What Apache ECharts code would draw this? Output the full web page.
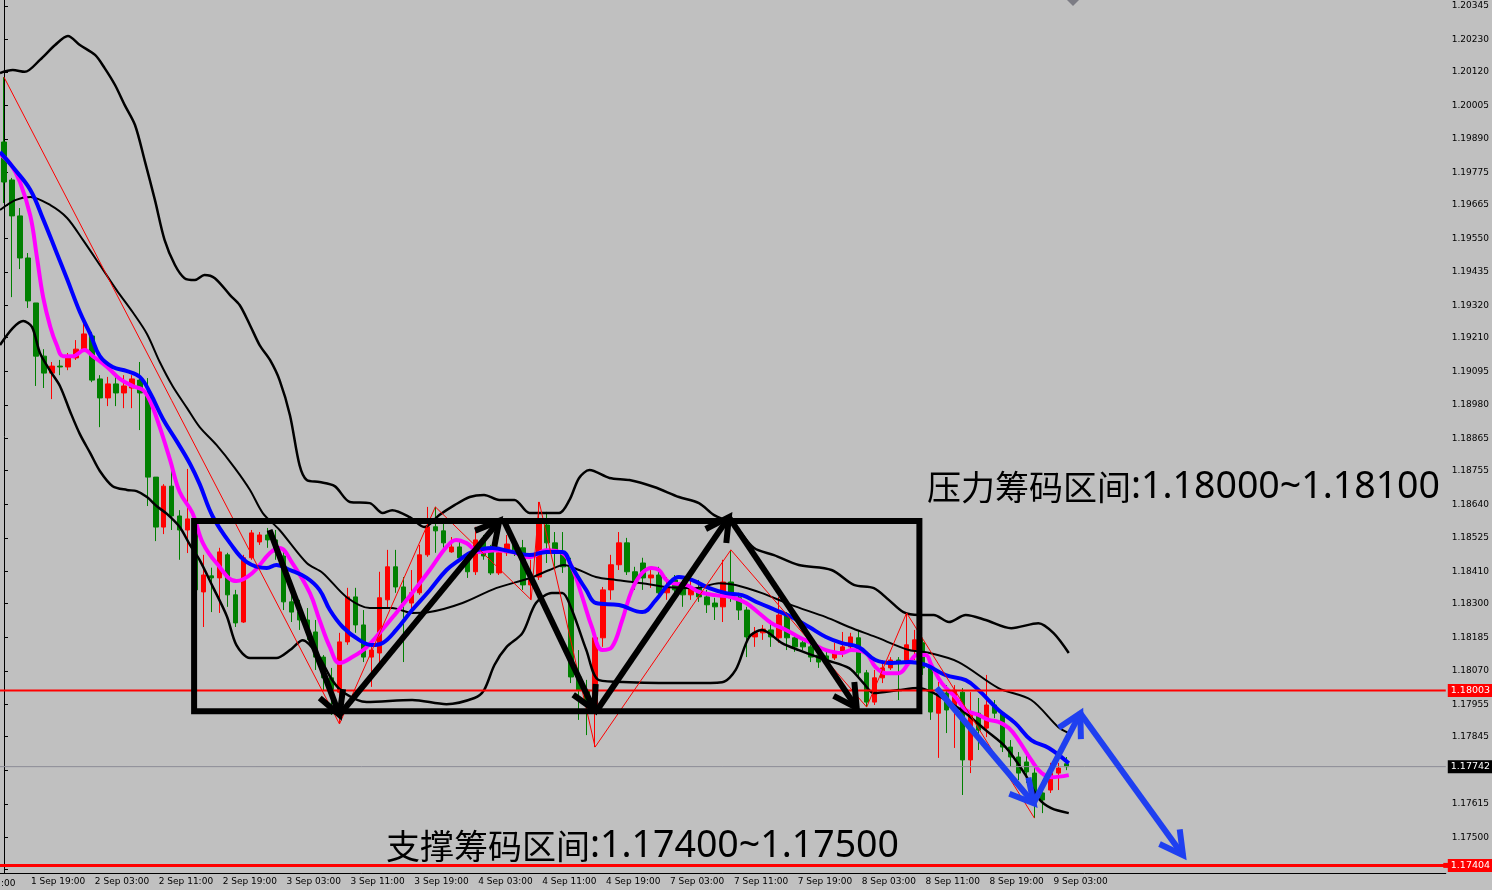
<!DOCTYPE html>
<html><head><meta charset="utf-8">
<script src="https://cdn.jsdelivr.net/npm/echarts@6.0.0/dist/echarts.min.js"></script>
<style>html,body{margin:0;padding:0;background:#c0c0c0;overflow:hidden}#c{width:1492px;height:890px}</style>
</head><body><div id="c"></div><script>
// ---------------- DATA ----------------
const sessionDays  = ['1 Sep','2 Sep','3 Sep','4 Sep','7 Sep','8 Sep','9 Sep'];
const sessionFirstHour = [16,0,0,0,0,0,0];
const sessionLastHour  = [23,23,23,23,23,23,5];
const CATEGORY_COUNT = 181; // visible hourly slots incl. empty right margin

const opens = [1.19880,1.19750,1.19627,1.19483,1.19329,1.19147,1.19089,1.19113,1.19110,1.19141,
1.19171,1.19216,1.19069,1.19004,1.19052,1.19021,1.19038,1.19065,1.19021,1.18733,
1.18562,1.18702,1.18600,1.18552,1.18580,1.18340,1.18395,1.18388,1.18467,1.18330,
1.18237,1.18457,1.18511,1.18535,1.18518,1.18463,1.18306,1.18271,1.18244,1.18203,
1.18117,1.18046,1.17997,1.18169,1.18323,1.18227,1.18117,1.18131,1.18313,1.18426,
1.18357,1.18302,1.18337,1.18467,1.18563,1.18549,1.18477,1.18494,1.18457,1.18409,
1.18518,1.18484,1.18405,1.18474,1.18504,1.18491,1.18364,1.18391,1.18569,1.18508,
1.18474,1.18426,1.18049,1.18004,1.17953,1.18183,1.18347,1.18433,1.18508,1.18409,
1.18439,1.18388,1.18398,1.18337,1.18381,1.18354,1.18330,1.18354,1.18323,1.18302,
1.18289,1.18374,1.18320,1.18278,1.18186,1.18200,1.18210,1.18183,1.18261,1.18183,
1.18166,1.18152,1.18124,1.18121,1.18114,1.18135,1.18152,1.18183,1.18063,1.17963,
1.18046,1.18080,1.18107,1.18097,1.18141,1.18166,1.18080,1.17925,1.17994,1.17936,
1.17997,1.17765,1.17925,1.17874,1.17953,1.17925,1.17809,1.17775,1.17758,1.17720,
1.17652,1.17662,1.17720,1.17752];
const closes = [1.19743,1.19627,1.19483,1.19336,1.19147,1.19089,1.19113,1.19110,1.19141,1.19171,
1.19223,1.19065,1.19004,1.19052,1.19021,1.19045,1.19069,1.19021,1.18733,1.18562,
1.18702,1.18600,1.18552,1.18590,1.18347,1.18398,1.18388,1.18477,1.18330,1.18234,
1.18457,1.18542,1.18535,1.18518,1.18477,1.18306,1.18271,1.18244,1.18203,1.18117,
1.18046,1.18004,1.18169,1.18323,1.18227,1.18117,1.18141,1.18320,1.18426,1.18357,
1.18302,1.18337,1.18467,1.18563,1.18549,1.18508,1.18494,1.18457,1.18409,1.18518,
1.18463,1.18405,1.18474,1.18504,1.18484,1.18364,1.18391,1.18576,1.18508,1.18474,
1.18426,1.18049,1.18004,1.17953,1.18183,1.18347,1.18433,1.18508,1.18409,1.18371,
1.18388,1.18398,1.18337,1.18354,1.18347,1.18330,1.18354,1.18323,1.18296,1.18289,
1.18374,1.18320,1.18278,1.18186,1.18200,1.18213,1.18186,1.18261,1.18183,1.18152,
1.18152,1.18117,1.18100,1.18107,1.18135,1.18152,1.18186,1.18063,1.17963,1.18046,
1.18080,1.18107,1.18100,1.18159,1.18176,1.18080,1.17929,1.17994,1.17936,1.18004,
1.17765,1.17925,1.17867,1.17953,1.17925,1.17809,1.17775,1.17720,1.17724,1.17652,
1.17628,1.17720,1.17737,1.17742];
const lows = [1.19671,1.19349,1.19445,1.19312,1.19045,1.19038,1.19000,1.19082,1.19099,1.19134,
1.19165,1.19058,1.18904,1.18976,1.18976,1.18969,1.18969,1.18894,1.18634,1.18514,
1.18538,1.18552,1.18450,1.18473,1.18313,1.18220,1.18271,1.18268,1.18289,1.18220,
1.18234,1.18450,1.18501,1.18491,1.18450,1.18278,1.18237,1.18210,1.18176,1.18073,
1.18004,1.17919,1.17888,1.18159,1.18200,1.18100,1.18015,1.18080,1.18285,1.18337,
1.18100,1.18278,1.18330,1.18460,1.18474,1.18491,1.18474,1.18443,1.18388,1.18398,
1.18450,1.18398,1.18398,1.18463,1.18463,1.18347,1.18313,1.18381,1.18439,1.18426,
1.18405,1.18028,1.17902,1.17850,1.17809,1.18152,1.18313,1.18415,1.18398,1.18347,
1.18347,1.18354,1.18320,1.18313,1.18320,1.18289,1.18313,1.18306,1.18268,1.18244,
1.18237,1.18306,1.18244,1.18117,1.18152,1.18176,1.18152,1.18166,1.18141,1.18135,
1.18141,1.18100,1.18080,1.18093,1.18107,1.18117,1.18141,1.18046,1.17946,1.17953,
1.18028,1.18073,1.17970,1.18083,1.18107,1.18056,1.17902,1.17772,1.17857,1.17806,
1.17645,1.17720,1.17799,1.17843,1.17908,1.17792,1.17741,1.17696,1.17686,1.17566,
1.17583,1.17652,1.17662,1.17730];
const highs = [1.20102,1.19757,1.19654,1.19500,1.19329,1.19171,1.19127,1.19134,1.19158,1.19202,
1.19281,1.19230,1.19082,1.19076,1.19082,1.19082,1.19082,1.19127,1.19072,1.18733,
1.18709,1.18767,1.18620,1.18761,1.18590,1.18467,1.18423,1.18491,1.18474,1.18347,
1.18467,1.18552,1.18545,1.18559,1.18552,1.18484,1.18364,1.18313,1.18285,1.18244,
1.18124,1.18080,1.18200,1.18354,1.18354,1.18278,1.18152,1.18409,1.18484,1.18484,
1.18391,1.18415,1.18501,1.18631,1.18631,1.18576,1.18528,1.18511,1.18467,1.18563,
1.18535,1.18501,1.18484,1.18535,1.18525,1.18518,1.18450,1.18648,1.18614,1.18545,
1.18545,1.18457,1.18141,1.18039,1.18210,1.18357,1.18467,1.18545,1.18525,1.18426,
1.18457,1.18426,1.18426,1.18391,1.18398,1.18381,1.18381,1.18381,1.18347,1.18320,
1.18450,1.18484,1.18337,1.18289,1.18220,1.18227,1.18244,1.18323,1.18271,1.18193,
1.18176,1.18166,1.18141,1.18141,1.18166,1.18203,1.18200,1.18210,1.18073,1.18073,
1.18107,1.18117,1.18117,1.18268,1.18210,1.18183,1.18097,1.18032,1.18021,1.18021,
1.18011,1.17997,1.17977,1.18056,1.17970,1.17929,1.17833,1.17792,1.17792,1.17737,
1.17696,1.17755,1.17755,1.17775];

// indicator lines, sampled [bar index, price]
const bbUpper = [[-0.5,1.20116],[1.1,1.20126],[2.6,1.20120],[4.5,1.20161],[6.4,1.20212],[8,1.20243],[9.5,1.20212],[11.4,1.20178],[12.6,1.20133],[13.9,1.20075],[15.1,1.20007],[16.4,1.19938],[17.6,1.19818],[18.9,1.19681],[20.1,1.19545],[21.4,1.19459],[22.6,1.19414],[23.9,1.19408],[25.1,1.19425],[26.4,1.19414],[28.3,1.19356],[29.5,1.19322],[30.8,1.19253],[32,1.19185],[33.3,1.19134],[34.5,1.19065],[35.8,1.18945],[37,1.18774],[37.9,1.18723],[39.5,1.18716],[41.4,1.18702],[43.3,1.18648],[45.8,1.18644],[47.4,1.18610],[48.6,1.18620],[50.8,1.18596],[52.6,1.18562],[54.5,1.18603],[56.4,1.18637],[58.3,1.18665],[60.1,1.18672],[62,1.18655],[63.9,1.18655],[65.8,1.18610],[69.5,1.18610],[70.8,1.18655],[72,1.18730],[73.3,1.18757],[75.8,1.18730],[78.3,1.18723],[81.4,1.18699],[84.5,1.18665],[87,1.18644],[88.9,1.18603],[91.4,1.18569],[93.9,1.18490],[96.4,1.18466],[99.5,1.18432],[103.6,1.18415],[106.4,1.18364],[108.9,1.18353],[110.8,1.18312],[112.6,1.18271],[114.5,1.18261],[116.4,1.18261],[118.3,1.18237],[120.4,1.18261],[122.9,1.18244],[126.1,1.18216],[129.5,1.18233],[131.4,1.18199],[133.3,1.18131]];
const bbMiddle = [[-0.5,1.19647],[1.4,1.19681],[3.3,1.19692],[5.8,1.19664],[7.9,1.19620],[9.9,1.19544],[12,1.19459],[14.1,1.19373],[16.1,1.19298],[17.9,1.19223],[19.5,1.19127],[21.1,1.19045],[22.9,1.18970],[24.5,1.18904],[26.6,1.18843],[28.9,1.18764],[30.8,1.18689],[32.4,1.18610],[34.5,1.18552],[37.9,1.18439],[39.9,1.18405],[42.9,1.18322],[45.8,1.18285],[48.6,1.18285],[51.1,1.18268],[53.3,1.18271],[57.4,1.18302],[61.6,1.18353],[65.8,1.18387],[68.3,1.18415],[70.1,1.18432],[72,1.18415],[74.1,1.18391],[76.6,1.18381],[79.9,1.18370],[82.9,1.18357],[86.6,1.18353],[89.5,1.18370],[91.6,1.18364],[94.9,1.18336],[98.6,1.18295],[102.9,1.18254],[105.8,1.18220],[109.1,1.18186],[113.3,1.18141],[115.4,1.18134],[119.5,1.18100],[124.5,1.18011],[128.6,1.17970],[132,1.17877],[133.3,1.17857]];
const bbLower = [[-0.5,1.19185],[1.1,1.19243],[2.4,1.19267],[3.5,1.19247],[4.5,1.19158],[5.8,1.19096],[7,1.19045],[8.3,1.18956],[9.5,1.18880],[10.8,1.18815],[12,1.18754],[13.6,1.18702],[15.4,1.18689],[16.6,1.18685],[17.9,1.18665],[19.1,1.18634],[20.4,1.18607],[22,1.18562],[23.3,1.18500],[24.5,1.18449],[26.1,1.18360],[27.9,1.18257],[29.1,1.18158],[30.8,1.18114],[34.1,1.18114],[35.8,1.18141],[37.4,1.18175],[39.3,1.18124],[41.1,1.18038],[42.6,1.17994],[45.4,1.17963],[51.1,1.17970],[55.4,1.17956],[58.9,1.17977],[60.1,1.18004],[61.4,1.18090],[62.9,1.18151],[64.9,1.18199],[66.6,1.18302],[68.6,1.18336],[69.9,1.18336],[71.1,1.18278],[72.9,1.18141],[74.5,1.18038],[78.3,1.18031],[86.1,1.18028],[89.9,1.18031],[91.6,1.18073],[93.3,1.18186],[94.9,1.18210],[97.4,1.18165],[99.5,1.18141],[102.9,1.18107],[105.8,1.18079],[107.6,1.18028],[108.9,1.17994],[112,1.18004],[114.5,1.18011],[116.4,1.17994],[118.3,1.17963],[120.4,1.17925],[122.9,1.17867],[125.4,1.17809],[127.9,1.17713],[129.5,1.17634],[131.1,1.17600],[133.3,1.17583]];
const maBlue = [[-0.5,1.19846],[1.1,1.19794],[3.3,1.19716],[4.9,1.19616],[6.6,1.19500],[7.9,1.19411],[9.5,1.19298],[10.8,1.19223],[12,1.19147],[13.6,1.19110],[15.4,1.19096],[17,1.19076],[18.3,1.19021],[19.9,1.18932],[21.6,1.18857],[23.3,1.18778],[24.5,1.18709],[26.1,1.18600],[28.3,1.18507],[30.4,1.18442],[32.9,1.18422],[34.1,1.18432],[35.8,1.18415],[37.9,1.18388],[39.5,1.18347],[40.8,1.18278],[42.4,1.18220],[44.5,1.18175],[46.1,1.18158],[47.4,1.18165],[49.1,1.18210],[51.1,1.18278],[53.3,1.18346],[55.4,1.18415],[57,1.18449],[58.6,1.18477],[61.1,1.18490],[63.6,1.18477],[65.8,1.18466],[67.9,1.18477],[69.9,1.18477],[71.1,1.18425],[72.9,1.18346],[74.1,1.18302],[77,1.18295],[79.9,1.18271],[81.6,1.18312],[83.3,1.18370],[84.5,1.18391],[86.1,1.18381],[88.3,1.18353],[90.4,1.18336],[92.4,1.18329],[94.5,1.18302],[96.6,1.18278],[98.6,1.18254],[100.8,1.18220],[102.9,1.18186],[104.9,1.18165],[107,1.18151],[109.1,1.18107],[111.1,1.18097],[113.3,1.18100],[115.4,1.18090],[117.9,1.18055],[120.4,1.18038],[122,1.18004],[124.5,1.17936],[126.6,1.17891],[128.6,1.17833],[130.8,1.17806],[133.3,1.17754]];
const maMagenta = [[-0.5,1.19839],[0.8,1.19805],[2,1.19743],[3.3,1.19627],[4.1,1.19490],[4.9,1.19349],[5.8,1.19247],[6.6,1.19185],[7.4,1.19147],[8.6,1.19147],[10.1,1.19168],[11.1,1.19147],[12.9,1.19110],[14.5,1.19069],[16.1,1.19045],[17.4,1.19031],[18.3,1.18993],[19.5,1.18904],[20.8,1.18791],[22,1.18682],[23.6,1.18610],[24.9,1.18507],[26.6,1.18439],[29.1,1.18377],[31.1,1.18405],[33.3,1.18473],[34.5,1.18490],[36.1,1.18439],[38.3,1.18336],[39.5,1.18244],[40.8,1.18151],[42,1.18097],[43.6,1.18117],[45.4,1.18151],[47,1.18199],[49.1,1.18268],[51.1,1.18336],[53.3,1.18415],[55.4,1.18494],[56.6,1.18518],[57.9,1.18507],[59.5,1.18477],[61.6,1.18483],[63.6,1.18477],[65.8,1.18459],[67.9,1.18483],[69.9,1.18473],[71.1,1.18425],[72.4,1.18322],[73.6,1.18220],[74.9,1.18141],[76.1,1.18151],[77.4,1.18244],[78.6,1.18346],[79.9,1.18405],[81.1,1.18422],[82,1.18415],[82.9,1.18381],[83.6,1.18370],[85.4,1.18364],[87,1.18340],[89.1,1.18329],[91.1,1.18322],[92.9,1.18302],[94.5,1.18268],[96.1,1.18233],[97.9,1.18210],[99.5,1.18186],[101.1,1.18165],[102.9,1.18141],[104.9,1.18131],[106.1,1.18141],[107.9,1.18131],[109.1,1.18083],[110.4,1.18062],[112,1.18062],[113.3,1.18097],[114.3,1.18124],[115.4,1.18124],[116.1,1.18090],[117.4,1.18028],[119.1,1.17980],[120.4,1.17936],[122,1.17919],[123.3,1.17902],[124.5,1.17895],[125.8,1.17874],[127,1.17833],[128.6,1.17765],[129.9,1.17720],[131.1,1.17706],[133.3,1.17713]];
const zigzag = [[0,1.20102],[42,1.17888],[54,1.18631],[66,1.18313],[67,1.18648],[74,1.17809],[91,1.18484],[108,1.17946],[113,1.18268],[129,1.17566]];

// price levels
const resistanceLine = 1.18003;
const supportLine = 1.17404;
const bidPrice = 1.17742;
const yTickLabels = ['1.20345','1.20230','1.20120','1.20005','1.19890','1.19775','1.19665','1.19550','1.19435','1.19320','1.19210','1.19095','1.18980','1.18865','1.18755','1.18640','1.18525','1.18410','1.18300','1.18185','1.18070','1.17955','1.17845','1.17730','1.17615','1.17500','1.17390'];
const PRICE_MIN = 1.17378, PRICE_MAX = 1.20366;

// drawn objects: [barIndexFrom, priceFrom, barIndexTo, priceTo]
const boxRange = [[23.8,1.18583,114.6,1.17932]];
const blackArrows = [[33.25,1.18552,42,1.17919],[42,1.17919,62,1.18583],[62.6,1.18583,73.9,1.17936],[74.1,1.17929,90.75,1.18596],[90.75,1.18596,106.75,1.17943]];
const blueArrows = [[116.75,1.18011,128.9,1.17617],[128.9,1.17617,134.75,1.17925],[134.75,1.17925,147.6,1.17439]];
const resistanceLabel = '压力筹码区间', resistanceRange = ':1.18000~1.18100';
const supportLabel = '支撑筹码区间', supportRange = ':1.17400~1.17500';

// ---------------- BUILD ----------------
const categories = [];
sessionDays.forEach((d, k) => {
  for (let h = sessionFirstHour[k]; h <= sessionLastHour[k]; h++) {
    categories.push(d + ' ' + String(h).padStart(2, '0') + ':00');
  }
});
const barCount = categories.length;
while (categories.length < CATEGORY_COUNT) categories.push('slot' + categories.length);

const candles = opens.map((o, i) => [o, closes[i], lows[i], highs[i]]);
const showTime = (idx, val) => idx < barCount && /(03|11|19):00$/.test(val);
const AXF = 'Tahoma, "DejaVu Sans", sans-serif';

function arrowItem(color, width, head) {
  return function (params, api) {
    const a = api.coord([api.value(0), api.value(1)]);
    const b = api.coord([api.value(2), api.value(3)]);
    const ang = Math.atan2(b[1] - a[1], b[0] - a[0]);
    const s = 0.5;
    const h1 = [b[0] - head * Math.cos(ang - s), b[1] - head * Math.sin(ang - s)];
    const h2 = [b[0] - head * Math.cos(ang + s), b[1] - head * Math.sin(ang + s)];
    return { type: 'group', children: [
      { type: 'line', shape: { x1: a[0], y1: a[1], x2: b[0], y2: b[1] }, style: { stroke: color, lineWidth: width } },
      { type: 'polyline', shape: { points: [h1, b, h2] }, style: { stroke: color, lineWidth: width, fill: null, lineJoin: 'miter' } }
    ]};
  };
}
function boxItem(params, api) {
  const a = api.coord([api.value(0), api.value(1)]);
  const b = api.coord([api.value(2), api.value(3)]);
  return { type: 'rect', shape: { x: a[0], y: a[1], width: b[0] - a[0], height: b[1] - a[1] },
    style: { stroke: '#000', lineWidth: 6, fill: null } };
}
function lineSeries(name, data, color, width, smooth, z) {
  return { name, type: 'line', xAxisIndex: 1, yAxisIndex: 0, data, showSymbol: false, symbol: 'none',
    smooth, lineStyle: { color, width }, z, silent: true };
}
function levelSeries(name, price, color, width, labelBg, z, marker) {
  const end = marker ? { value: [CATEGORY_COUNT - 0.5, price], symbol: 'rect', symbolSize: 5, itemStyle: { color } }
                     : [CATEGORY_COUNT - 0.5, price];
  return { name, type: 'line', xAxisIndex: 1, yAxisIndex: 0, z, silent: true, symbol: 'none', showSymbol: !!marker,
    data: [[-0.5, price], end],
    lineStyle: { color, width }, clip: false,
    endLabel: { show: true, distance: 2, formatter: () => price.toFixed(5), color: '#fff',
      backgroundColor: labelBg, padding: [2, 3, 1, 3], fontSize: 9.5, fontFamily: AXF } };
}
function zoneText(left, top, label, range) {
  return { type: 'text', left, top, z: 100, style: { text: '{c|' + label + '}{n|' + range + '}',
    rich: { c: { font: '34px "Noto Sans CJK SC"', fill: '#000' }, n: { font: '37.5px "Noto Sans", "Open Sans"', fill: '#000' } } } };
}

const chart = echarts.init(document.getElementById('c'));
chart.setOption({
  backgroundColor: '#c0c0c0',
  animation: false,
  grid: { left: 0, right: 45, top: 0, bottom: 17 },
  xAxis: [
    { type: 'category', data: categories, boundaryGap: true,
      axisLine: { lineStyle: { color: '#000', width: 1 } },
      axisTick: { alignWithLabel: true, length: 4, interval: showTime, lineStyle: { color: '#000' } },
      axisLabel: { interval: showTime, align: 'left', margin: 4, color: '#000', fontSize: 9, fontFamily: AXF, padding: [0, 0, 0, 3] },
      splitLine: { show: false } },
    { type: 'value', min: -0.5, max: CATEGORY_COUNT - 0.5, show: false }
  ],
  yAxis: { type: 'value', position: 'right', min: PRICE_MIN, max: PRICE_MAX, scale: true,
    axisLine: { show: true, lineStyle: { color: '#000' } },
    axisTick: { show: true, length: 4, customValues: yTickLabels.map(Number), lineStyle: { color: '#000' } },
    axisLabel: { customValues: yTickLabels.map(Number), formatter: v => v.toFixed(5), color: '#000', fontSize: 9, fontFamily: AXF, margin: 6 },
    splitLine: { show: false } },
  series: [
    { name: 'EURUSD H1', type: 'candlestick', xAxisIndex: 0, yAxisIndex: 0, data: candles, barWidth: 5, z: 2,
      itemStyle: { color: '#ff0000', color0: '#008000', borderColor: '#ff0000', borderColor0: '#008000', borderWidth: 1 } },
    lineSeries('BB upper', bbUpper, '#000', 2.5, 0.3, 3),
    lineSeries('BB middle', bbMiddle, '#000', 2, 0.3, 3),
    lineSeries('BB lower', bbLower, '#000', 2.5, 0.3, 3),
    lineSeries('MA slow', maMagenta, '#ff00ff', 4, 0.4, 4),
    lineSeries('MA fast', maBlue, '#0000ff', 4, 0.4, 5),
    { name: 'ZigZag', type: 'line', xAxisIndex: 1, data: zigzag, symbol: 'none', lineStyle: { color: '#ff0000', width: 1 }, z: 6, silent: true },
    levelSeries('bid', bidPrice, '#8c8c96', 1, '#000', 7, false),
    levelSeries('resistance', resistanceLine, '#ff0000', 2, '#ff0000', 7, false),
    levelSeries('support', supportLine, '#ff0000', 3, '#ff0000', 7, true),
    { name: 'box', type: 'custom', xAxisIndex: 1, data: boxRange, renderItem: boxItem, z: 8, silent: true },
    { name: 'arrows', type: 'custom', xAxisIndex: 1, data: blackArrows, renderItem: arrowItem('#000', 6, 26), z: 9, silent: true },
    { name: 'arrows2', type: 'custom', xAxisIndex: 1, data: blueArrows, renderItem: arrowItem('#1f3ff0', 6, 26), z: 9, silent: true }
  ],
  graphic: [
    zoneText(927, 468, resistanceLabel, resistanceRange),
    zoneText(386, 827, supportLabel, supportRange),
    { type: 'text', left: 1, top: 879, z: 100, style: { text: ':00', font: '9px ' + AXF, fill: '#000' } },
    { type: 'polygon', z: 100, shape: { points: [[1067, 0], [1079, 0], [1073, 6]] }, style: { fill: '#7c7c84' } }
  ]
});
</script></body></html>
